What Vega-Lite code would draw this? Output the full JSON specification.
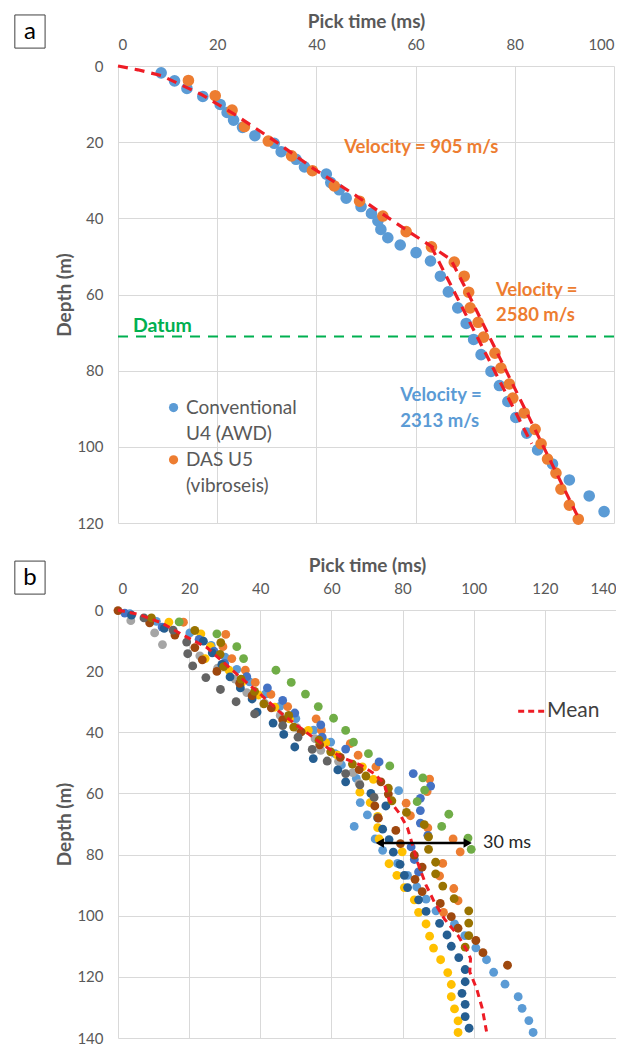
{
  "$schema": "https://vega.github.io/schema/vega-lite/v6.json",
  "background": "white",
  "padding": {"left": 14, "top": 12, "right": 0, "bottom": 0},
  "spacing": 25,
  "resolve": {"scale": {"color": "independent"}},
  "config": {
    "view": {"stroke": null},
    "font": "Lato",
    "axis": {
      "grid": true, "gridColor": "#D9D9D9", "gridWidth": 1,
      "domain": false, "ticks": false, "tickSize": 0,
      "labelFont": "Lato", "labelFontSize": 15, "labelColor": "#595959",
      "titleFont": "Lato", "titleFontSize": 19, "titleFontWeight": "bold", "titleColor": "#595959",
      "labelPadding": 14
    },
    "axisY": {"labelPadding": 15, "titlePadding": 2}
  },
  "datasets": {
    "a_pts": [
      {"s":"Conventional U4 (AWD)","t":8.7,"d":1.8},{"s":"Conventional U4 (AWD)","t":11.4,"d":3.9},{"s":"Conventional U4 (AWD)","t":13.9,"d":5.9},{"s":"Conventional U4 (AWD)","t":17.1,"d":8.0},{"s":"Conventional U4 (AWD)","t":20.6,"d":10.1},{"s":"Conventional U4 (AWD)","t":22.0,"d":12.2},{"s":"Conventional U4 (AWD)","t":23.3,"d":14.2},{"s":"Conventional U4 (AWD)","t":25.1,"d":16.1},{"s":"Conventional U4 (AWD)","t":27.6,"d":18.3},{"s":"Conventional U4 (AWD)","t":31.5,"d":20.3},{"s":"Conventional U4 (AWD)","t":32.9,"d":22.5},{"s":"Conventional U4 (AWD)","t":35.9,"d":24.5},{"s":"Conventional U4 (AWD)","t":37.6,"d":26.5},{"s":"Conventional U4 (AWD)","t":42.0,"d":28.4},{"s":"Conventional U4 (AWD)","t":42.9,"d":30.6},{"s":"Conventional U4 (AWD)","t":44.6,"d":32.5},{"s":"Conventional U4 (AWD)","t":46.0,"d":34.7},{"s":"Conventional U4 (AWD)","t":49.0,"d":36.9},{"s":"Conventional U4 (AWD)","t":51.1,"d":38.7},{"s":"Conventional U4 (AWD)","t":52.4,"d":40.7},{"s":"Conventional U4 (AWD)","t":53.0,"d":42.9},{"s":"Conventional U4 (AWD)","t":54.4,"d":45.1},{"s":"Conventional U4 (AWD)","t":56.9,"d":47.0},{"s":"Conventional U4 (AWD)","t":60.1,"d":49.0},{"s":"Conventional U4 (AWD)","t":63.0,"d":51.2},{"s":"Conventional U4 (AWD)","t":65.0,"d":55.2},{"s":"Conventional U4 (AWD)","t":66.6,"d":59.3},{"s":"Conventional U4 (AWD)","t":68.5,"d":63.5},{"s":"Conventional U4 (AWD)","t":70.2,"d":67.6},{"s":"Conventional U4 (AWD)","t":71.7,"d":71.8},{"s":"Conventional U4 (AWD)","t":73.2,"d":75.8},{"s":"Conventional U4 (AWD)","t":75.2,"d":80.2},{"s":"Conventional U4 (AWD)","t":76.9,"d":83.9},{"s":"Conventional U4 (AWD)","t":78.6,"d":88.1},{"s":"Conventional U4 (AWD)","t":80.2,"d":92.3},{"s":"Conventional U4 (AWD)","t":82.4,"d":96.4},{"s":"Conventional U4 (AWD)","t":84.6,"d":100.8},{"s":"Conventional U4 (AWD)","t":87.6,"d":104.5},{"s":"Conventional U4 (AWD)","t":91.0,"d":108.7},{"s":"Conventional U4 (AWD)","t":95.0,"d":112.9},{"s":"Conventional U4 (AWD)","t":98.0,"d":117.0},
      {"s":"DAS U5 (vibroseis)","t":14.2,"d":3.8},{"s":"DAS U5 (vibroseis)","t":19.6,"d":7.8},{"s":"DAS U5 (vibroseis)","t":23.0,"d":11.6},{"s":"DAS U5 (vibroseis)","t":25.5,"d":15.9},{"s":"DAS U5 (vibroseis)","t":30.3,"d":19.7},{"s":"DAS U5 (vibroseis)","t":35.0,"d":23.6},{"s":"DAS U5 (vibroseis)","t":39.2,"d":27.5},{"s":"DAS U5 (vibroseis)","t":43.6,"d":31.5},{"s":"DAS U5 (vibroseis)","t":48.7,"d":35.5},{"s":"DAS U5 (vibroseis)","t":53.4,"d":39.4},{"s":"DAS U5 (vibroseis)","t":58.1,"d":43.5},{"s":"DAS U5 (vibroseis)","t":63.2,"d":47.5},{"s":"DAS U5 (vibroseis)","t":67.8,"d":51.5},{"s":"DAS U5 (vibroseis)","t":69.8,"d":55.2},{"s":"DAS U5 (vibroseis)","t":70.7,"d":59.4},{"s":"DAS U5 (vibroseis)","t":71.0,"d":63.5},{"s":"DAS U5 (vibroseis)","t":72.6,"d":67.3},{"s":"DAS U5 (vibroseis)","t":73.7,"d":71.2},{"s":"DAS U5 (vibroseis)","t":76.0,"d":75.4},{"s":"DAS U5 (vibroseis)","t":77.2,"d":79.3},{"s":"DAS U5 (vibroseis)","t":78.9,"d":83.5},{"s":"DAS U5 (vibroseis)","t":79.6,"d":87.2},{"s":"DAS U5 (vibroseis)","t":81.9,"d":91.1},{"s":"DAS U5 (vibroseis)","t":84.1,"d":95.4},{"s":"DAS U5 (vibroseis)","t":85.3,"d":99.2},{"s":"DAS U5 (vibroseis)","t":86.6,"d":103.2},{"s":"DAS U5 (vibroseis)","t":88.3,"d":106.9},{"s":"DAS U5 (vibroseis)","t":89.3,"d":111.1},{"s":"DAS U5 (vibroseis)","t":91.0,"d":115.3},{"s":"DAS U5 (vibroseis)","t":92.8,"d":119.0}
    ],
    "a_fit": [
      {"line":"das","t":0,"d":0},{"line":"das","t":4,"d":1},{"line":"das","t":8.7,"d":2.5},{"line":"das","t":16.7,"d":7.4},{"line":"das","t":23.4,"d":12.6},{"line":"das","t":31.5,"d":19.6},{"line":"das","t":39.6,"d":27.1},{"line":"das","t":47.6,"d":33.7},{"line":"das","t":53.4,"d":38.9},{"line":"das","t":58.4,"d":43.3},{"line":"das","t":63.1,"d":47.3},{"line":"das","t":67.1,"d":50.8},{"line":"das","t":70.2,"d":58.7},{"line":"das","t":92.7,"d":118.3},
      {"line":"conv","t":63.1,"d":47.3},{"line":"conv","t":83.4,"d":99.2}
    ],
    "b_pts": [
      {"s":"s1","t":3.3,"d":1.2},{"s":"s1","t":10.8,"d":3.7},{"s":"s1","t":20.2,"d":7.5},{"s":"s1","t":26.2,"d":11.6},{"s":"s1","t":30.1,"d":15.4},{"s":"s1","t":33.4,"d":19.4},{"s":"s1","t":37,"d":23.5},{"s":"s1","t":41.4,"d":27.5},{"s":"s1","t":45.5,"d":31.5},{"s":"s1","t":50,"d":35.5},{"s":"s1","t":55,"d":39.3},{"s":"s1","t":59.8,"d":43.2},{"s":"s1","t":61,"d":47},{"s":"s1","t":62.8,"d":50.7},{"s":"s1","t":67,"d":55.1},{"s":"s1","t":78.9,"d":59.1},{"s":"s1","t":68.1,"d":63},{"s":"s1","t":70.1,"d":67},{"s":"s1","t":66.4,"d":70.8},{"s":"s1","t":72.3,"d":74.9},{"s":"s1","t":74.4,"d":78.6},{"s":"s1","t":78.6,"d":82.9},{"s":"s1","t":81.4,"d":86.8},{"s":"s1","t":84,"d":90.6},{"s":"s1","t":86.6,"d":94.6},{"s":"s1","t":89.4,"d":98.4},{"s":"s1","t":94.6,"d":102.7},{"s":"s1","t":97.5,"d":106.5},{"s":"s1","t":100.6,"d":110.5},{"s":"s1","t":103.6,"d":114.4},{"s":"s1","t":105.6,"d":118.5},{"s":"s1","t":108.8,"d":122.4},{"s":"s1","t":112.5,"d":126.5},{"s":"s1","t":113.6,"d":130.3},{"s":"s1","t":115.5,"d":134.3},{"s":"s1","t":116.7,"d":138.2},
      {"s":"s2","t":18.4,"d":4},{"s":"s2","t":30.3,"d":8},{"s":"s2","t":29.5,"d":12},{"s":"s2","t":32,"d":15.9},{"s":"s2","t":35.8,"d":19.7},{"s":"s2","t":38.6,"d":23.7},{"s":"s2","t":43,"d":27.6},{"s":"s2","t":47.7,"d":31.6},{"s":"s2","t":55.7,"d":35.6},{"s":"s2","t":57.2,"d":39.4},{"s":"s2","t":65.3,"d":43.7},{"s":"s2","t":67.5,"d":47.5},{"s":"s2","t":72.5,"d":51.3},{"s":"s2","t":87.6,"d":55.3},{"s":"s2","t":86.9,"d":59.4},{"s":"s2","t":81,"d":63.2},{"s":"s2","t":82.2,"d":67.3},{"s":"s2","t":87.1,"d":71.3},{"s":"s2","t":94.2,"d":74.9},{"s":"s2","t":96.2,"d":79.1},{"s":"s2","t":91.3,"d":82.9},{"s":"s2","t":90.4,"d":87},{"s":"s2","t":94.4,"d":91.1},{"s":"s2","t":95.6,"d":95.1},{"s":"s2","t":91.5,"d":98.9},
      {"s":"s3","t":3.6,"d":3.5},{"s":"s3","t":10.3,"d":7.5},{"s":"s3","t":12.5,"d":11.3},{"s":"s3","t":23,"d":15},{"s":"s3","t":28,"d":19},{"s":"s3","t":32.9,"d":22.6},{"s":"s3","t":36.2,"d":27},{"s":"s3","t":41.2,"d":30.5},{"s":"s3","t":45.6,"d":34.5},{"s":"s3","t":50.3,"d":38.5},{"s":"s3","t":55.4,"d":42.1},{"s":"s3","t":57,"d":45.9},{"s":"s3","t":62,"d":49.5},{"s":"s3","t":66,"d":53.2},{"s":"s3","t":67.8,"d":56.7},
      {"s":"s4","t":14.3,"d":4},{"s":"s4","t":23.3,"d":7.8},{"s":"s4","t":26,"d":12},{"s":"s4","t":24.5,"d":15.9},{"s":"s4","t":31.2,"d":19.7},{"s":"s4","t":34.8,"d":23.7},{"s":"s4","t":39.5,"d":27.8},{"s":"s4","t":44.1,"d":31.8},{"s":"s4","t":48.2,"d":35.6},{"s":"s4","t":53.5,"d":39.4},{"s":"s4","t":58.4,"d":43.4},{"s":"s4","t":61.7,"d":47.5},{"s":"s4","t":68.7,"d":51.3},{"s":"s4","t":71.8,"d":55.4},{"s":"s4","t":68,"d":59.6},{"s":"s4","t":70.9,"d":63},{"s":"s4","t":73,"d":67.5},{"s":"s4","t":73,"d":71.2},{"s":"s4","t":73.4,"d":74.9},{"s":"s4","t":79.9,"d":79.1},{"s":"s4","t":76.2,"d":83},{"s":"s4","t":78.4,"d":86.8},{"s":"s4","t":80.5,"d":90.8},{"s":"s4","t":83.3,"d":94.8},{"s":"s4","t":84.5,"d":98.9},{"s":"s4","t":86.6,"d":102.7},{"s":"s4","t":87.6,"d":106.7},{"s":"s4","t":88.7,"d":110.6},{"s":"s4","t":90.7,"d":114.4},{"s":"s4","t":92.7,"d":118.6},{"s":"s4","t":93.7,"d":122.5},{"s":"s4","t":93.7,"d":126.5},{"s":"s4","t":94.6,"d":130.5},{"s":"s4","t":95.6,"d":134.4},{"s":"s4","t":95.6,"d":138.2},
      {"s":"s5","t":1.9,"d":1},{"s":"s5","t":12.4,"d":5.6},{"s":"s5","t":22.8,"d":9.6},{"s":"s5","t":27,"d":13.5},{"s":"s5","t":30,"d":17.5},{"s":"s5","t":36.2,"d":21.8},{"s":"s5","t":42,"d":25.5},{"s":"s5","t":46.3,"d":29.6},{"s":"s5","t":49.7,"d":33.7},{"s":"s5","t":57,"d":37.6},{"s":"s5","t":57.4,"d":41.6},{"s":"s5","t":64,"d":45.5},{"s":"s5","t":73.4,"d":49.7},{"s":"s5","t":83,"d":53.5},{"s":"s5","t":87.9,"d":57.6},{"s":"s5","t":85,"d":61.6},{"s":"s5","t":85,"d":65.6},{"s":"s5","t":85,"d":69.7},{"s":"s5","t":87.1,"d":73.7},{"s":"s5","t":82.4,"d":77.5},{"s":"s5","t":83.3,"d":81.6},{"s":"s5","t":84.5,"d":85.7},
      {"s":"s6","t":17.2,"d":3.9},{"s":"s6","t":27.8,"d":7.8},{"s":"s6","t":33.4,"d":12},{"s":"s6","t":35.3,"d":15.9},{"s":"s6","t":44.4,"d":19.7},{"s":"s6","t":48.7,"d":23.7},{"s":"s6","t":52.7,"d":27.5},{"s":"s6","t":56.3,"d":31.6},{"s":"s6","t":60.6,"d":35.4},{"s":"s6","t":64,"d":39.4},{"s":"s6","t":66.2,"d":43.2},{"s":"s6","t":70.4,"d":47},{"s":"s6","t":76.4,"d":51},{"s":"s6","t":85.7,"d":54.9},{"s":"s6","t":86.2,"d":58.9},{"s":"s6","t":84.1,"d":62.7},{"s":"s6","t":93,"d":66.8},{"s":"s6","t":91,"d":70.8},{"s":"s6","t":98.4,"d":74.6},{"s":"s6","t":99.3,"d":78.3},
      {"s":"s7","t":3.8,"d":1.7},{"s":"s7","t":13,"d":6},{"s":"s7","t":24,"d":10.2},{"s":"s7","t":26.5,"d":14},{"s":"s7","t":29.2,"d":17.8},{"s":"s7","t":31.5,"d":21.9},{"s":"s7","t":34.4,"d":25.5},{"s":"s7","t":37.7,"d":29.1},{"s":"s7","t":39.1,"d":33.4},{"s":"s7","t":43.6,"d":37},{"s":"s7","t":46.6,"d":40.7},{"s":"s7","t":49.7,"d":44.8},{"s":"s7","t":54.9,"d":48.6},{"s":"s7","t":61.8,"d":52.3},{"s":"s7","t":64,"d":56.2},{"s":"s7","t":71.1,"d":60},{"s":"s7","t":75.3,"d":64.1},{"s":"s7","t":73,"d":68},{"s":"s7","t":74.4,"d":71.7},{"s":"s7","t":76.2,"d":75.1},{"s":"s7","t":77.4,"d":79.2},{"s":"s7","t":79.3,"d":83.2},{"s":"s7","t":80.5,"d":86.8},{"s":"s7","t":81.4,"d":90.8},{"s":"s7","t":84.5,"d":94.8},{"s":"s7","t":86.6,"d":98.6},{"s":"s7","t":90.4,"d":102.5},{"s":"s7","t":92.5,"d":106.3},{"s":"s7","t":93.7,"d":110},{"s":"s7","t":95.8,"d":113.7},{"s":"s7","t":97.6,"d":117.6},{"s":"s7","t":97.6,"d":121.6},{"s":"s7","t":96.7,"d":125.4},{"s":"s7","t":97.6,"d":129},{"s":"s7","t":97.6,"d":133},{"s":"s7","t":98.7,"d":136.8},
      {"s":"s8","t":0,"d":0.2},{"s":"s8","t":8.9,"d":4.2},{"s":"s8","t":16,"d":8.2},{"s":"s8","t":21.6,"d":12.3},{"s":"s8","t":23.7,"d":16.3},{"s":"s8","t":27.8,"d":20.1},{"s":"s8","t":34.2,"d":24},{"s":"s8","t":37.7,"d":28},{"s":"s8","t":43.1,"d":32},{"s":"s8","t":46.3,"d":35.9},{"s":"s8","t":51.5,"d":39.9},{"s":"s8","t":56.7,"d":44.1},{"s":"s8","t":62.5,"d":48.2},{"s":"s8","t":67.8,"d":52.2},{"s":"s8","t":73.9,"d":56.2},{"s":"s8","t":76,"d":60.2},{"s":"s8","t":72.2,"d":64.1},{"s":"s8","t":73.2,"d":68.1},{"s":"s8","t":78.1,"d":72.1},{"s":"s8","t":79.4,"d":76.4},{"s":"s8","t":83.3,"d":80.2},{"s":"s8","t":85.5,"d":84.1},{"s":"s8","t":83.5,"d":88.1},{"s":"s8","t":85.5,"d":92.1},{"s":"s8","t":90.6,"d":96},{"s":"s8","t":93.7,"d":100.3},{"s":"s8","t":95.6,"d":104.1},{"s":"s8","t":100.6,"d":108.1},{"s":"s8","t":102.6,"d":112.1},{"s":"s8","t":109.5,"d":116.2},
      {"s":"s9","t":7.3,"d":2.6},{"s":"s9","t":15.5,"d":6.6},{"s":"s9","t":19.3,"d":10.5},{"s":"s9","t":19.6,"d":14.3},{"s":"s9","t":21,"d":18.3},{"s":"s9","t":24.7,"d":22.1},{"s":"s9","t":28.8,"d":26},{"s":"s9","t":33.2,"d":30},{"s":"s9","t":38.4,"d":34},{"s":"s9","t":46.3,"d":37.8},{"s":"s9","t":50.6,"d":41.6},{"s":"s9","t":54.6,"d":45.6},{"s":"s9","t":58.8,"d":49.4},{"s":"s9","t":64,"d":53.5},{"s":"s9","t":68,"d":57.2},{"s":"s9","t":72,"d":61.3},
      {"s":"s10","t":9.4,"d":2.6},{"s":"s10","t":21.6,"d":6.7},{"s":"s10","t":28.9,"d":10.7},{"s":"s10","t":28.7,"d":14.5},{"s":"s10","t":29.7,"d":18.5},{"s":"s10","t":34.6,"d":22.6},{"s":"s10","t":38.4,"d":26.6},{"s":"s10","t":41,"d":30.7},{"s":"s10","t":48,"d":34.5},{"s":"s10","t":49.4,"d":38.3},{"s":"s10","t":56.5,"d":42.6},{"s":"s10","t":59.8,"d":46.4},{"s":"s10","t":65.9,"d":50.4},{"s":"s10","t":69.7,"d":54.3},{"s":"s10","t":76,"d":58.3},{"s":"s10","t":77,"d":62.4},{"s":"s10","t":81.1,"d":66.2},{"s":"s10","t":86.1,"d":70.2},{"s":"s10","t":87.3,"d":74.2},{"s":"s10","t":87.3,"d":78.3},{"s":"s10","t":89.3,"d":82.5},{"s":"s10","t":89.3,"d":86.3},{"s":"s10","t":91.3,"d":90.3},{"s":"s10","t":94.5,"d":94.4},{"s":"s10","t":98.6,"d":98.4},{"s":"s10","t":98.6,"d":102.4},{"s":"s10","t":98.6,"d":106.5},{"s":"s10","t":97.6,"d":110.3}
    ],
    "b_mean": [
      {"t":0,"d":0},{"t":6,"d":1.5},{"t":12.2,"d":4.2},{"t":18,"d":8},{"t":25,"d":12.3},{"t":33.9,"d":21.5},{"t":40,"d":27.5},{"t":46.1,"d":34},{"t":51.2,"d":38.5},{"t":57,"d":43.5},{"t":62.5,"d":48},{"t":68.2,"d":50.7},{"t":72,"d":53.5},{"t":74.8,"d":56.7},{"t":76.2,"d":62.1},{"t":79.1,"d":66.5},{"t":81.4,"d":71.3},{"t":82.9,"d":77.3},{"t":84.2,"d":82.5},{"t":86.6,"d":90},{"t":89,"d":95.7},{"t":91.8,"d":101.1},{"t":95.6,"d":106.5},{"t":98.4,"d":111.9},{"t":99.1,"d":114.1},{"t":98.9,"d":118.4},{"t":100.8,"d":123.8},{"t":102.4,"d":130.3},{"t":103.6,"d":137.9}
    ]
  },
  "vconcat": [
    {
      "width": 496,
      "height": 457,
      "encoding": {
        "x": {"field": "t", "type": "quantitative", "scale": {"domain": [0, 100], "nice": false, "zero": false},
              "axis": {"orient": "top", "title": "Pick time (ms)", "values": [0, 20, 40, 60, 80, 100], "titlePadding": 6}},
        "y": {"field": "d", "type": "quantitative", "scale": {"domain": [0, 120], "nice": false, "reverse": true},
              "axis": {"title": "Depth (m)", "values": [0, 20, 40, 60, 80, 100, 120]}}
      },
      "layer": [
        {
          "data": {"values": [{"t": 0, "t2": 100, "d": 71}]},
          "mark": {"type": "rule", "color": "#00B050", "strokeWidth": 2, "strokeDash": [10, 8]},
          "encoding": {"x2": {"field": "t2"}}
        },
        {
          "data": {"name": "a_pts"},
          "mark": {"type": "circle", "size": 135, "opacity": 1},
          "encoding": {
            "color": {"field": "s", "type": "nominal",
                      "scale": {"domain": ["Conventional U4 (AWD)", "DAS U5 (vibroseis)"], "range": ["#5B9BD5", "#ED7D31"]},
                      "legend": null}
          }
        },
        {
          "data": {"name": "a_fit"},
          "mark": {"type": "line", "color": "#EE1C25", "strokeWidth": 3.2, "strokeDash": [10, 7]},
          "encoding": {"detail": {"field": "line"}, "order": {"field": "d"}}
        },
        {
          "data": {"values": [
            {"t": 45.6, "d": 21.3, "label": "Velocity = 905 m/s"},
            {"t": 76.2, "d": 58.7, "label": "Velocity ="},
            {"t": 76.2, "d": 65.4, "label": "2580 m/s"}
          ]},
          "mark": {"type": "text", "align": "left", "baseline": "middle", "font": "Lato", "fontSize": 18.5, "fontWeight": "bold", "color": "#ED7D31"},
          "encoding": {"text": {"field": "label"}}
        },
        {
          "data": {"values": [
            {"t": 56.9, "d": 86.5, "label": "Velocity ="},
            {"t": 56.9, "d": 93.2, "label": "2313 m/s"}
          ]},
          "mark": {"type": "text", "align": "left", "baseline": "middle", "font": "Lato", "fontSize": 18.5, "fontWeight": "bold", "color": "#5B9BD5"},
          "encoding": {"text": {"field": "label"}}
        },
        {
          "data": {"values": [{"t": 3.0, "d": 68.3, "label": "Datum"}]},
          "mark": {"type": "text", "align": "left", "baseline": "middle", "font": "Lato", "fontSize": 19.5, "fontWeight": "bold", "color": "#00B050"},
          "encoding": {"text": {"field": "label"}}
        },
        {
          "data": {"values": [
            {"s": "Conventional U4 (AWD)", "t": 11.2, "d": 89.7},
            {"s": "DAS U5 (vibroseis)", "t": 11.2, "d": 103.4}
          ]},
          "mark": {"type": "circle", "size": 85, "opacity": 1},
          "encoding": {"color": {"field": "s", "type": "nominal", "legend": null}}
        },
        {
          "data": {"values": [
            {"t": 13.7, "d": 89.7, "label": "Conventional"},
            {"t": 13.7, "d": 96.6, "label": "U4 (AWD)"},
            {"t": 13.7, "d": 103.4, "label": "DAS U5"},
            {"t": 13.7, "d": 110.4, "label": "(vibroseis)"}
          ]},
          "mark": {"type": "text", "align": "left", "baseline": "middle", "font": "Lato", "fontSize": 19, "color": "#595959"},
          "encoding": {"text": {"field": "label"}}
        },
        {
          "data": {"values": [{"t": -20.8, "t2": -14.7, "d": -13.4, "d2": -4.7}]},
          "mark": {"type": "rect", "fill": "white", "stroke": "#404040", "strokeWidth": 1},
          "encoding": {"x2": {"field": "t2"}, "y2": {"field": "d2"}}
        },
        {
          "data": {"values": [{"t": -17.75, "d": -9.0, "label": "a"}]},
          "mark": {"type": "text", "align": "center", "baseline": "middle", "font": "Lato", "fontSize": 24, "color": "#000000"},
          "encoding": {"text": {"field": "label"}}
        }
      ]
    },
    {
      "width": 498,
      "height": 428,
      "encoding": {
        "x": {"field": "t", "type": "quantitative", "scale": {"domain": [0, 140], "nice": false, "zero": false},
              "axis": {"orient": "top", "title": "Pick time (ms)", "values": [0, 20, 40, 60, 80, 100, 120, 140], "titlePadding": 6}},
        "y": {"field": "d", "type": "quantitative", "scale": {"domain": [0, 140], "nice": false, "reverse": true},
              "axis": {"title": "Depth (m)", "values": [0, 20, 40, 60, 80, 100, 120, 140]}}
      },
      "layer": [
        {
          "data": {"name": "b_pts"},
          "mark": {"type": "circle", "size": 78, "opacity": 1},
          "encoding": {
            "color": {"field": "s", "type": "nominal",
                      "scale": {"domain": ["s1", "s2", "s3", "s4", "s5", "s6", "s7", "s8", "s9", "s10"],
                                "range": ["#5B9BD5", "#ED7D31", "#A5A5A5", "#FFC000", "#4472C4", "#70AD47", "#255E91", "#9E480E", "#636363", "#997300"]},
                      "legend": null}
          }
        },
        {
          "data": {"name": "b_mean"},
          "mark": {"type": "line", "color": "#EE1C25", "strokeWidth": 3, "strokeDash": [7, 5]},
          "encoding": {"order": {"field": "d"}}
        },
        {
          "data": {"values": [{"t": 112.5, "t2": 120.1, "d": 33.1}]},
          "mark": {"type": "rule", "color": "#EE1C25", "strokeWidth": 3, "strokeDash": [6, 4]},
          "encoding": {"x2": {"field": "t2"}}
        },
        {
          "data": {"values": [{"t": 120.6, "d": 33.1, "label": "Mean"}]},
          "mark": {"type": "text", "align": "left", "baseline": "middle", "font": "Lato", "fontSize": 21, "color": "#404040"},
          "encoding": {"text": {"field": "label"}}
        },
        {
          "data": {"values": [{"t": 73.4, "t2": 98.5, "d": 76.2}]},
          "mark": {"type": "rule", "color": "#000000", "strokeWidth": 2.5},
          "encoding": {"x2": {"field": "t2"}}
        },
        {
          "data": {"values": [{"t": 73.6, "d": 76.2, "end": "left"}, {"t": 98.3, "d": 76.2, "end": "right"}]},
          "mark": {"type": "point", "filled": true, "color": "#000000", "size": 90, "opacity": 1},
          "encoding": {"shape": {"field": "end", "type": "nominal", "scale": {"domain": ["left", "right"], "range": ["triangle-left", "triangle-right"]}, "legend": null}}
        },
        {
          "data": {"values": [{"t": 102.6, "d": 76.2, "label": "30 ms"}]},
          "mark": {"type": "text", "align": "left", "baseline": "middle", "font": "Lato", "fontSize": 18, "color": "#262626"},
          "encoding": {"text": {"field": "label"}}
        },
        {
          "data": {"values": [{"t": -29.0, "t2": -20.5, "d": -16.0, "d2": -5.2}]},
          "mark": {"type": "rect", "fill": "white", "stroke": "#404040", "strokeWidth": 1},
          "encoding": {"x2": {"field": "t2"}, "y2": {"field": "d2"}}
        },
        {
          "data": {"values": [{"t": -24.75, "d": -10.6, "label": "b"}]},
          "mark": {"type": "text", "align": "center", "baseline": "middle", "font": "Lato", "fontSize": 24, "color": "#000000"},
          "encoding": {"text": {"field": "label"}}
        }
      ]
    }
  ]
}
